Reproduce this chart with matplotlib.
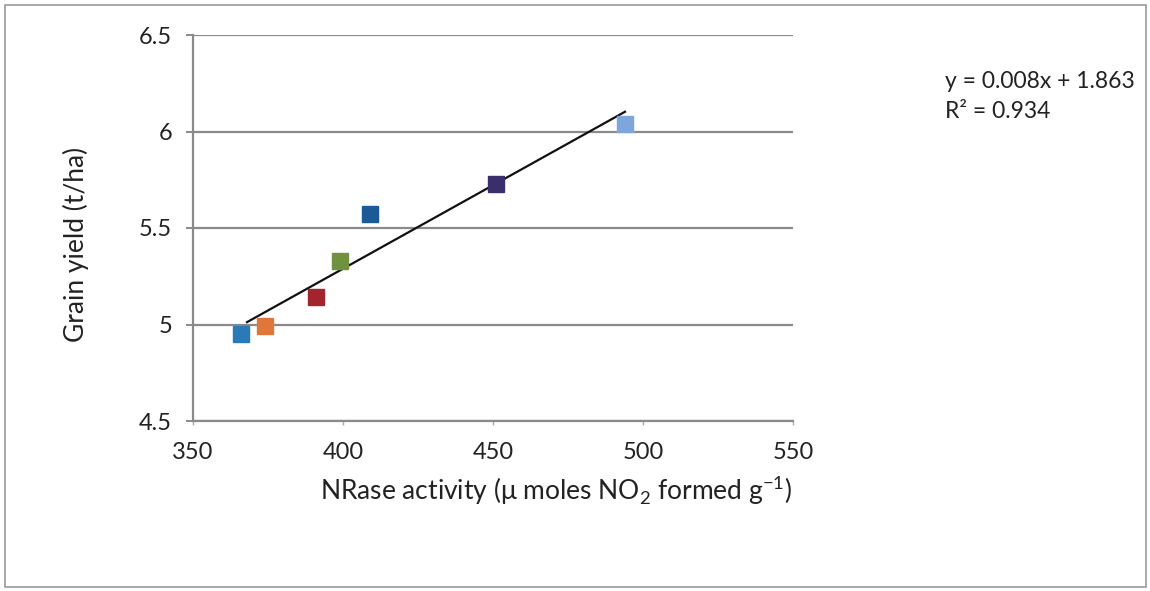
import numpy as np
import matplotlib
matplotlib.use('Agg')
import matplotlib.pyplot as plt
from matplotlib.patches import Rectangle

# NRase activity vs grain yield, one treatment per point
nrase = [366, 374, 391, 399, 409, 451, 494]
grain_yield = [4.95, 4.99, 5.14, 5.33, 5.57, 5.73, 6.04]
point_colors = ['#2a7ab8', '#e0773a', '#a3242c', '#6f9140', '#1c5a96', '#3a2f6a', '#7fa6dc']

x_ticks = [350, 400, 450, 500, 550]
y_ticks = [4.5, 5, 5.5, 6, 6.5]
eq_text = 'y = 0.008x + 1.863'
r2_text = 'R² = 0.934'

plt.rcParams['font.family'] = ['Lato', 'DejaVu Sans']

fig = plt.figure(figsize=(11.5, 5.91), dpi=100)
ax = fig.add_axes([193 / 1150, 1 - 421 / 591, 600 / 1150, 386 / 591])

# trendline from a least squares fit
slope, intercept = np.polyfit(nrase, grain_yield, 1)
xs = np.array([min(nrase) + 2, max(nrase)])
ax.plot(xs, slope * xs + intercept, color='#111111', lw=1.6, zorder=2)

for x, y, c in zip(nrase, grain_yield, point_colors):
    ax.plot(x, y, marker='s', ms=12, color=c, mec=c, ls='none', zorder=3)

ax.set_xlim(350, 550)
ax.set_ylim(4.5, 6.5)
ax.set_xticks(x_ticks)
ax.set_yticks(y_ticks)
ax.set_xticklabels([str(t) for t in x_ticks])
ax.set_yticklabels(['4.5', '5', '5.5', '6', '6.5'])
ax.grid(axis='y', color='#8a8a8a', lw=1.6)
ax.set_axisbelow(True)
for s in ['top', 'right']:
    ax.spines[s].set_visible(False)
ax.spines['left'].set_color('#8a8a8a')
ax.spines['left'].set_linewidth(1.6)
ax.spines['bottom'].set_color('#8a8a8a')
ax.spines['bottom'].set_linewidth(1.6)
ax.tick_params(axis='y', length=5, width=1.4, color='#8a8a8a', labelsize=17, pad=10,
               labelcolor='#222222')
ax.tick_params(axis='x', length=3, width=1, color='#aaaaaa', labelsize=17, pad=12,
               labelcolor='#222222')

ax.set_ylabel('Grain yield (t/ha)', fontsize=19, color='#222222')
ax.yaxis.set_label_coords((76 - 193) / 600, (421 - 244) / 386)
ax.set_xlabel(r'NRase activity ($\mathregular{\mu}$ moles NO$_\mathregular{2}$ formed g$^\mathregular{-1}$)',
              fontsize=19, color='#222222')
ax.xaxis.set_label_coords((556 - 193) / 600, (421 - 490) / 386)
ax.xaxis.label.set_va('center')
ax.yaxis.label.set_va('center')

fig.text(945 / 1150, 1 - 81 / 591, eq_text, fontsize=16.5, va='center', color='#222222')
fig.text(945 / 1150, 1 - 111 / 591, r2_text, fontsize=16.5, va='center', color='#222222')

# outer frame
fig.patches.append(Rectangle((5 / 1150, 4 / 591), 1141 / 1150, 582 / 591,
                             transform=fig.transFigure, fill=False,
                             edgecolor='#9a9a9a', lw=1.2))

fig.savefig('out.png', dpi=100)
